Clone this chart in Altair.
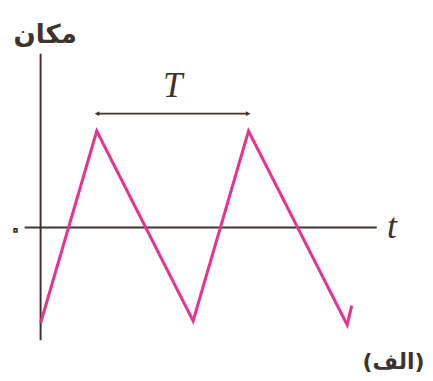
import altair as alt
import pandas as pd

# Triangle wave (position vs time), time in units of the period T
wave_t = [0.0, 0.37, 1.005, 1.37, 2.02, 2.05]
wave_y = [-0.99, 1.0, -0.97, 1.0, -1.01, -0.81]

# Axis extents (data units)
x_axis_t = [-0.105, 2.215]
y_axis_y = [-1.17, 1.80]

# Period annotation: double arrow between the two peaks
period_t = [0.372, 1.368]
period_y = 1.18

# Labels
labels_text = ["T", "t", "۰", "مکان", "(الف)"]
labels_t = [0.87, 2.315, -0.165, 0.03, 2.325]
labels_y = [1.47, 0.0, -0.03, 2.0, -1.39]

PINK = "#e6338d"
INK = "#3d3430"

x_scale = alt.Scale(domain=[-0.195, 2.513], nice=False, zero=False)
y_scale = alt.Scale(domain=[-1.488, 2.275], nice=False, zero=False)
X = lambda f: alt.X(f, type="quantitative", scale=x_scale, axis=None)
Y = lambda f: alt.Y(f, type="quantitative", scale=y_scale, axis=None)

wave = pd.DataFrame({"t": wave_t, "y": wave_y, "o": range(len(wave_t))})
axes = pd.DataFrame({
    "t1": [x_axis_t[0], 0.0], "t2": [x_axis_t[1], 0.0],
    "y1": [0.0, y_axis_y[0]], "y2": [0.0, y_axis_y[1]],
})
arrow = pd.DataFrame({"t1": [period_t[0]], "t2": [period_t[1]], "y": [period_y]})
heads = pd.DataFrame({"t": period_t, "y": [period_y, period_y], "side": ["left", "right"]})

axis_layer = alt.Chart(axes).mark_rule(color=INK, strokeWidth=2).encode(
    x=X("t1"), x2="t2", y=Y("y1"), y2="y2")

wave_layer = alt.Chart(wave).mark_line(color=PINK, strokeWidth=3, strokeJoin="miter").encode(
    x=X("t"), y=Y("y"), order="o:Q")

arrow_layer = alt.Chart(arrow).mark_rule(color=INK, strokeWidth=1.6).encode(
    x=X("t1"), x2="t2", y=Y("y"))

head_left = alt.Chart(heads[heads.side == "left"]).mark_point(
    shape="M 0.6 -0.6 L -0.6 0 L 0.6 0.6 Z", filled=True, color=INK, size=60, opacity=1
).encode(x=X("t"), y=Y("y"))
head_right = alt.Chart(heads[heads.side == "right"]).mark_point(
    shape="M -0.6 -0.6 L 0.6 0 L -0.6 0.6 Z", filled=True, color=INK, size=60, opacity=1
).encode(x=X("t"), y=Y("y"))

lab = pd.DataFrame({"text": labels_text, "t": labels_t, "y": labels_y})

def text_layer(i, **kw):
    return alt.Chart(lab.iloc[[i]]).mark_text(baseline="middle", align="center", **kw).encode(
        x=X("t"), y=Y("y"), text="text:N")

T_label = text_layer(0, color=INK, font="Liberation Serif", fontStyle="italic", fontSize=35)
t_label = text_layer(1, color=INK, font="Liberation Serif", fontStyle="italic", fontSize=36)
zero_label = text_layer(2, fill="white", stroke=INK, strokeWidth=1.6, font="DejaVu Sans", fontSize=26)
pos_label = text_layer(3, color=INK, font="DejaVu Sans", fontSize=26, fontWeight="bold")
fig_label = text_layer(4, color=INK, font="DejaVu Sans", fontSize=22, fontWeight="bold")

chart = alt.layer(
    axis_layer, wave_layer, arrow_layer, head_left, head_right,
    T_label, t_label, zero_label, pos_label, fig_label,
).properties(
    width=417, height=365, padding=0, background="white",
    autosize=alt.AutoSizeParams(type="fit", contains="padding"),
).configure_view(stroke=None)

chart.save("out.html", embed_options={"renderer": "svg", "actions": False})
